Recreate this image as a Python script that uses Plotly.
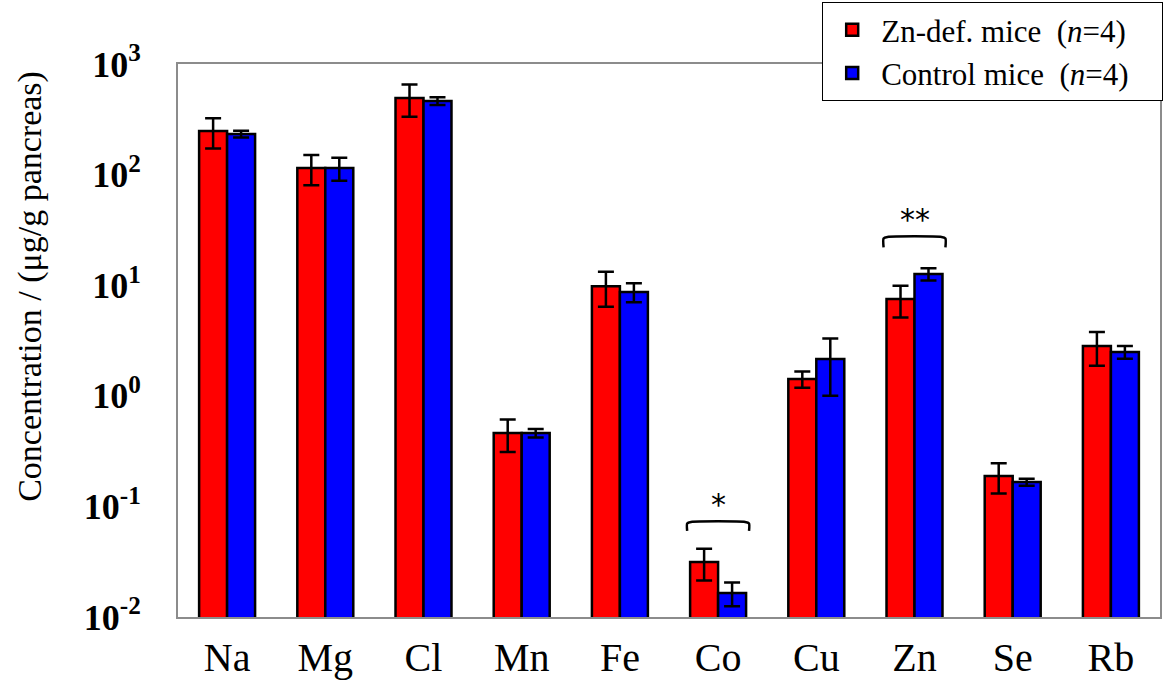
import plotly.graph_objects as go
import numpy as np

elements = ["Na", "Mg", "Cl", "Mn", "Fe", "Co", "Cu", "Zn", "Se", "Rb"]
zn_def_mean = [248, 115, 493, 0.46, 9.8, 0.0314, 1.42, 7.5, 0.188, 2.82]
zn_def_err = [76, 35, 160, 0.15, 3.4, 0.0100, 0.24, 2.4, 0.057, 0.95]
control_mean = [233, 115, 463, 0.46, 8.7, 0.0165, 2.15, 12.6, 0.166, 2.49]
control_err = [16, 27, 37, 0.04, 1.7, 0.0040, 1.15, 1.6, 0.012, 0.33]

ytick_vals = [0.01, 0.1, 1, 10, 100, 1000]
ytick_text = ["<b>10<sup>-2</sup></b>", "<b>10<sup>-1</sup></b>", "<b>10<sup>0</sup></b>",
              "<b>10<sup>1</sup></b>", "<b>10<sup>2</sup></b>", "<b>10<sup>3</sup></b>"]

# significance brackets: (category index, bracket top value, leg bottom value, label)
sig_index = [5, 7]
sig_top = [0.0723, 27.3]
sig_leg = [0.060, 22.0]
sig_label = ["*", "**"]

FONT = "Liberation Serif, serif"
xpos = list(range(len(elements)))

fig = go.Figure()
fig.add_trace(go.Bar(
    x=xpos, y=zn_def_mean,
    name="Zn-def. mice&nbsp;&nbsp;(<i>n</i>=4)&nbsp;&nbsp;&nbsp;&nbsp;",
    legendgroup="a",
    marker=dict(color="#ff0000", line=dict(color="black", width=2.5)),
    error_y=dict(type="data", array=zn_def_err, visible=True, color="black", thickness=2.5, width=8),
))
fig.add_trace(go.Bar(
    x=xpos, y=control_mean, name="Control mice&nbsp;&nbsp;(<i>n</i>=4)",
    legendgroup="b",
    marker=dict(color="#0000ff", line=dict(color="black", width=2.5)),
    error_y=dict(type="data", array=control_err, visible=True, color="black", thickness=2.5, width=8),
))

half = 0.315
for i, top, leg, lab in zip(sig_index, sig_top, sig_leg, sig_label):
    xs = [i - half, i - half, i - half + 0.04, i + half - 0.04, i + half, i + half]
    ys = [leg, top * 0.97, top, top, top * 0.97, leg]
    fig.add_trace(go.Scatter(x=xs, y=ys, mode="lines", showlegend=False, hoverinfo="skip",
                             line=dict(color="black", width=2.5, shape="spline", smoothing=0.6)))
    fig.add_annotation(x=i, y=np.log10(top), yref="y", xref="x", text=lab, showarrow=False,
                       yanchor="bottom", yshift=-2, font=dict(family="DejaVu Sans", size=30, color="black"))

fig.add_annotation(x=-0.1507, y=0.597, xref="paper", yref="paper", textangle=-90,
                   text="Concentration / (μg/g pancreas)", showarrow=False,
                   xanchor="center", yanchor="middle",
                   font=dict(family=FONT, size=34, color="black"))

fig.update_layout(
    width=1164, height=684,
    margin=dict(l=178, r=4, t=64, b=67, autoexpand=False),
    paper_bgcolor="white", plot_bgcolor="white",
    barmode="group", bargap=0.43, bargroupgap=0,
    font=dict(family=FONT, color="black"),
    legend=dict(x=0.656, y=1.112, xanchor="left", yanchor="top",
                bordercolor="black", borderwidth=1, bgcolor="white", tracegroupgap=0,
                font=dict(family=FONT, size=31, color="black"), itemwidth=48),
)
fig.update_xaxes(range=[-0.5, 9.5], tickvals=xpos, ticktext=elements,
                 tickfont=dict(family=FONT, size=40, color="black"),
                 showline=True, mirror=True, linecolor="#8c8c8c", linewidth=2,
                 showgrid=False, ticks="", zeroline=False, ticklabelstandoff=4)
fig.update_yaxes(type="log", range=[-2, 3], tickvals=ytick_vals, ticktext=ytick_text,
                 tickfont=dict(family=FONT, size=36, color="black"),
                 showline=True, mirror=True, linecolor="#8c8c8c", linewidth=2,
                 showgrid=False, ticks="", ticklabelstandoff=28)

fig.write_html("out.html", config={"displayModeBar": False},
               post_script="document.body.style.margin='0px';")
